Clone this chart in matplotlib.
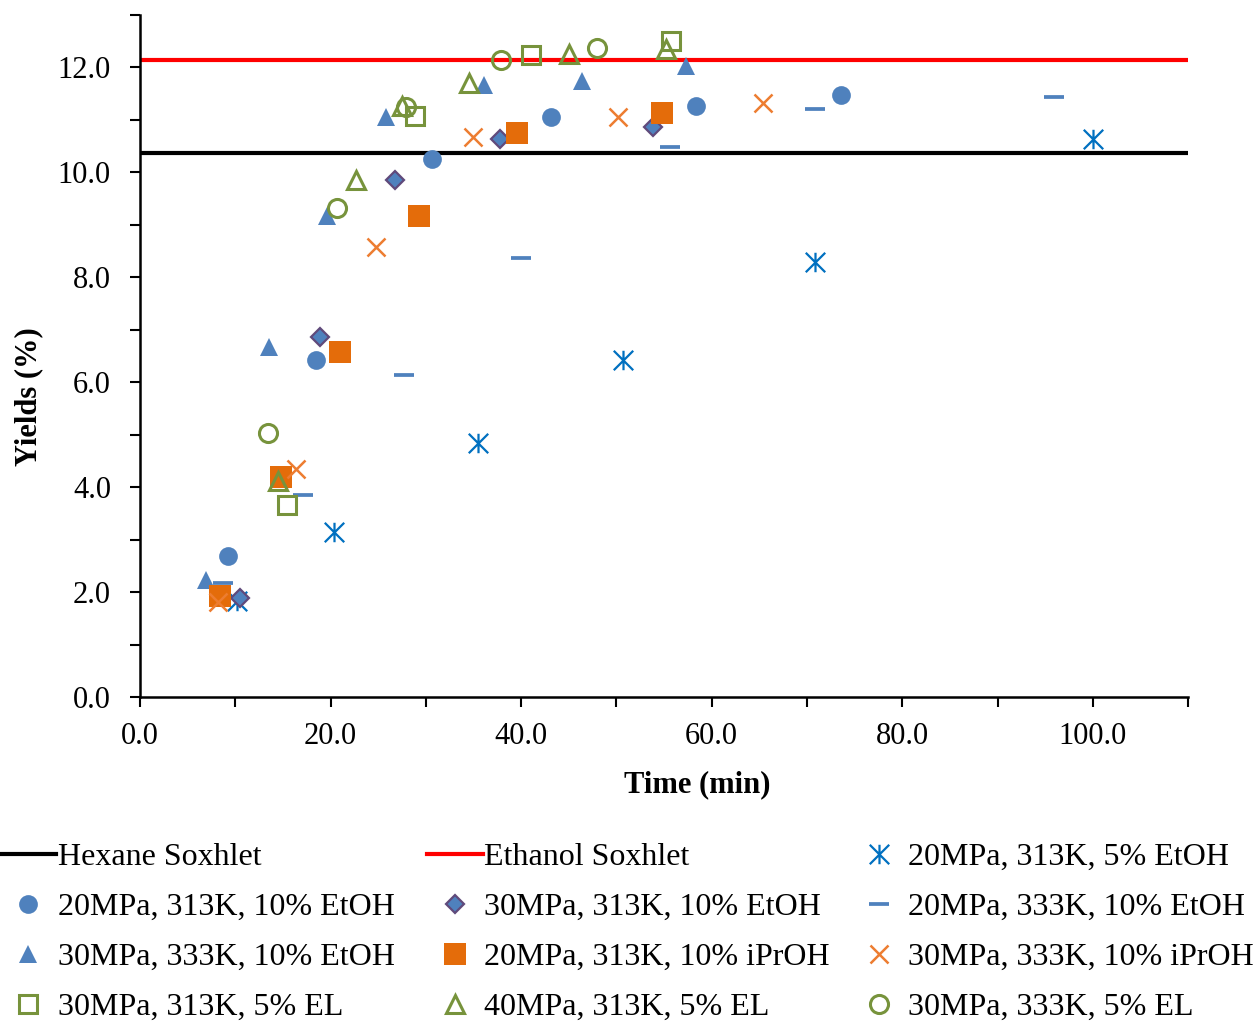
import numpy as np
import matplotlib
matplotlib.use("Agg")
import matplotlib.pyplot as plt
from matplotlib.path import Path
from matplotlib.ticker import MultipleLocator, FormatStrFormatter

plt.rcParams['font.family'] = ['Liberation Serif', 'DejaVu Serif']

# Soxhlet reference yields (%)
hexane_soxhlet = 10.37
ethanol_soxhlet = 12.14

# SFE runs: time (min) and yield (%)
t_20_313_5etoh = [10.2, 20.4, 35.5, 50.7, 70.8, 100.0]
y_20_313_5etoh = [1.83, 3.15, 4.85, 6.43, 8.30, 10.64]

t_20_313_10etoh = [9.2, 18.5, 30.6, 43.1, 58.4, 73.6]
y_20_313_10etoh = [2.69, 6.43, 10.26, 11.05, 11.26, 11.47]

t_30_313_10etoh = [10.5, 18.9, 26.8, 37.8, 53.8]
y_30_313_10etoh = [1.89, 6.87, 9.86, 10.63, 10.87]

t_20_333_10etoh = [8.7, 17.1, 27.7, 40.0, 55.6, 70.8, 95.9]
y_20_333_10etoh = [2.17, 3.85, 6.14, 8.36, 10.49, 11.20, 11.43]

t_30_333_10etoh = [6.9, 13.5, 19.6, 25.8, 36.1, 46.4, 57.3]
y_30_333_10etoh = [2.23, 6.68, 9.16, 11.06, 11.66, 11.75, 12.02]

t_20_313_10iproh = [8.4, 14.8, 21.0, 29.3, 39.6, 54.8]
y_20_313_10iproh = [1.93, 4.20, 6.58, 9.16, 10.76, 11.14]

t_30_333_10iproh = [8.2, 16.4, 24.8, 34.9, 50.2, 65.4]
y_30_333_10iproh = [1.81, 4.35, 8.58, 10.68, 11.06, 11.33]

t_30_313_5el = [15.4, 28.9, 41.0, 55.7]
y_30_313_5el = [3.66, 11.08, 12.23, 12.50]

t_40_313_5el = [14.5, 22.7, 27.5, 34.5, 45.0, 55.2]
y_40_313_5el = [4.12, 9.86, 11.27, 11.71, 12.25, 12.36]

t_30_333_5el = [13.4, 20.7, 27.9, 37.9, 48.0]
y_30_333_5el = [5.04, 9.33, 11.24, 12.15, 12.38]

BLUE = '#4F81BD'
DARK_BLUE = '#0070C0'
PURPLE = '#604A7B'
ORANGE = '#E46C0A'
LIGHT_ORANGE = '#ED7D31'
GREEN = '#77933C'

# vertical bar plus an X, like the spreadsheet asterisk
asterisk = Path([(0, -1), (0, 1), (-1, -1), (1, 1), (-1, 1), (1, -1)],
                [Path.MOVETO, Path.LINETO] * 3)

fig = plt.figure(figsize=(12.56, 10.21), dpi=100)
ax = fig.add_axes([0.1115, 0.3173, 0.8344, 0.668])

h_hex = ax.axhline(hexane_soxhlet, color='black', lw=3, label='Hexane Soxhlet')
h_eth = ax.axhline(ethanol_soxhlet, color='#FF0000', lw=3, label='Ethanol Soxhlet')

kw = dict(linestyle='none')
s1, = ax.plot(t_20_313_5etoh, y_20_313_5etoh, marker=asterisk, ms=14, mew=1.6,
              color=DARK_BLUE, label='20MPa, 313K, 5% EtOH', **kw)
s2, = ax.plot(t_20_313_10etoh, y_20_313_10etoh, marker='o', ms=13.5, mew=0,
              color=BLUE, label='20MPa, 313K, 10% EtOH', **kw)
s3, = ax.plot(t_30_313_10etoh, y_30_313_10etoh, marker='D', ms=9.5, mew=1.6,
              mfc=BLUE, mec=PURPLE, label='30MPa, 313K, 10% EtOH', **kw)
s4, = ax.plot(t_20_333_10etoh, y_20_333_10etoh, marker='_', ms=14, mew=2.7,
              color=BLUE, label='20MPa, 333K, 10% EtOH', **kw)
s5, = ax.plot(t_30_333_10etoh, y_30_333_10etoh, marker='^', ms=12.5, mew=0,
              color=BLUE, label='30MPa, 333K, 10% EtOH', **kw)
s6, = ax.plot(t_20_313_10iproh, y_20_313_10iproh, marker='s', ms=15.5, mew=0,
              color=ORANGE, label='20MPa, 313K, 10% iPrOH', **kw)
s7, = ax.plot(t_30_333_10iproh, y_30_333_10iproh, marker='x', ms=13.5, mew=1.8,
              color=LIGHT_ORANGE, label='30MPa, 333K, 10% iPrOH', **kw)
s8, = ax.plot(t_30_313_5el, y_30_313_5el, marker='s', ms=13, mew=2.2,
              mfc='none', mec=GREEN, label='30MPa, 313K, 5% EL', **kw)
s9, = ax.plot(t_40_313_5el, y_40_313_5el, marker='^', ms=13, mew=2.2,
              mfc='none', mec=GREEN, label='40MPa, 313K, 5% EL', **kw)
s10, = ax.plot(t_30_333_5el, y_30_333_5el, marker='o', ms=13, mew=2.2,
               mfc='none', mec=GREEN, label='30MPa, 333K, 5% EL', **kw)

ax.set_xlim(0, 110)
ax.set_ylim(0, 13)
ax.xaxis.set_major_locator(MultipleLocator(20))
ax.xaxis.set_minor_locator(MultipleLocator(10))
ax.yaxis.set_major_locator(MultipleLocator(2))
ax.yaxis.set_minor_locator(MultipleLocator(1))
ax.xaxis.set_major_formatter(FormatStrFormatter('%.1f'))
ax.yaxis.set_major_formatter(FormatStrFormatter('%.1f'))
ax.tick_params(which='both', direction='out', length=7, width=1.5, color='black')
ax.tick_params(axis='x', which='major', labelsize=22, pad=11)
ax.tick_params(axis='y', which='major', labelsize=22, pad=14)

for side in ('top', 'right'):
    ax.spines[side].set_visible(False)
for side in ('left', 'bottom'):
    ax.spines[side].set_linewidth(1.8)

ax.set_xlabel('Time (min)', fontsize=22, fontweight='bold')
ax.set_ylabel('Yields (%)', fontsize=22, fontweight='bold')
ax.xaxis.set_label_coords(0.532, -0.108)
ax.yaxis.set_label_coords(-0.092, 0.44)

# legend laid out row by row in three columns
columns = [[h_hex, s2, s5, s8], [h_eth, s3, s6, s9], [s1, s4, s7, s10]]
col_x = [0.0, 427 / 1256, 851 / 1256]
for handles, x in zip(columns, col_x):
    fig.legend(handles=handles, loc='upper left', bbox_to_anchor=(x, 0.175),
               frameon=False, fontsize=23, numpoints=1, handlelength=1.75,
               handletextpad=0.05, labelspacing=0.65, borderpad=0,
               borderaxespad=0)

fig.savefig('out.png', dpi=100)
